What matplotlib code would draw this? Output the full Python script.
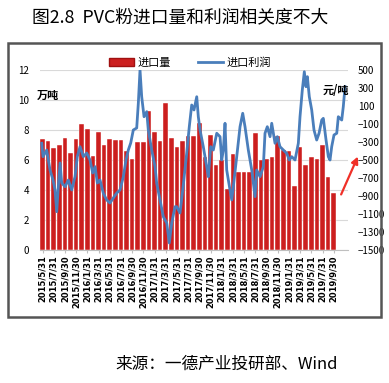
import matplotlib.pyplot as plt
import matplotlib.patches as patches
from matplotlib.lines import Line2D

plt.rcParams['font.family'] = ['Noto Sans CJK SC', 'DejaVu Sans']

# monthly import volume (10k tons), 2015/5 .. 2019/9
months = ['2015/5', '2015/6', '2015/7', '2015/8', '2015/9', '2015/10', '2015/11', '2015/12',
          '2016/1', '2016/2', '2016/3', '2016/4', '2016/5', '2016/6', '2016/7', '2016/8',
          '2016/9', '2016/10', '2016/11', '2016/12', '2017/1', '2017/2', '2017/3', '2017/4',
          '2017/5', '2017/6', '2017/7', '2017/8', '2017/9', '2017/10', '2017/11', '2017/12',
          '2018/1', '2018/2', '2018/3', '2018/4', '2018/5', '2018/6', '2018/7', '2018/8',
          '2018/9', '2018/10', '2018/11', '2018/12', '2019/1', '2019/2', '2019/3', '2019/4',
          '2019/5', '2019/6', '2019/7', '2019/8', '2019/9']
imports = [7.4, 7.3, 6.8, 7.0, 7.5, 6.5, 7.4, 8.4, 8.1, 6.3, 7.9, 7.0, 7.4, 7.35,
           7.35, 6.6, 6.1, 7.2, 7.2, 9.3, 7.9, 7.3, 9.8, 7.5, 6.9, 7.3, 7.6, 7.6,
           8.5, 6.2, 7.7, 5.7, 6.0, 4.1, 6.4, 5.2, 5.2, 5.2, 7.8, 6.0, 6.1, 6.2,
           7.6, 6.7, 6.6, 4.3, 6.9, 5.7, 6.2, 6.1, 7.0, 4.9, 3.8]

tick_labels = ['2015/5/31', '2015/7/31', '2015/9/30', '2015/11/30', '2016/1/31',
               '2016/3/31', '2016/5/31', '2016/7/31', '2016/9/30', '2016/11/30',
               '2017/1/31', '2017/3/31', '2017/5/31', '2017/7/31', '2017/9/30',
               '2017/11/30', '2018/1/31', '2018/3/31', '2018/5/31', '2018/7/31',
               '2018/9/30', '2018/11/30', '2019/1/31', '2019/3/31', '2019/5/31',
               '2019/7/31', '2019/9/30']

# import profit (yuan/ton), position in months since 2015/5
profit_t = [-0.14, 0.09, 0.75, 1.34, 1.88, 2.23, 2.54, 2.82, 3.13, 3.43, 4.02, 4.61,
            5.21, 5.80, 6.21, 6.70, 7.29, 7.89, 8.48, 8.96, 9.38, 9.79, 10.27, 10.86,
            11.46, 12.05, 12.64, 13.25, 13.84, 14.43, 14.91, 15.32, 15.75, 16.21, 16.82,
            17.11, 17.41, 17.71, 18.13, 18.61, 18.89, 19.5, 20.09, 20.39, 20.98, 21.57,
            22.18, 22.64, 23.07, 23.66, 23.96, 24.55, 25.04, 25.75, 26.21, 26.64, 27.05,
            27.54, 27.82, 28.13, 28.71, 29.32, 29.61, 30.04, 30.5, 31.11, 31.7, 32.0,
            32.29, 32.59, 32.89, 33.48, 33.79, 34.07, 34.68, 35.27, 35.75, 36.16, 36.75,
            37.36, 37.95, 38.25, 38.84, 39.43, 39.73, 40.14, 40.63, 40.93, 41.52, 41.93,
            42.41, 43.0, 43.61, 44.07, 44.5, 45.09, 45.68, 45.98, 46.39, 46.75, 47.05,
            47.29, 47.64, 48.07, 48.48, 48.96, 49.38, 49.86, 50.14, 50.63, 51.04, 51.34,
            51.64, 52.05, 52.54, 52.82, 53.43, 53.71, 54.02]
profit = [-314, -463, -389, -611, -722, -833, -1074, -797, -533, -756, -797, -722,
          -833, -686, -463, -352, -463, -422, -500, -644, -574, -756, -722, -870,
          -944, -978, -922, -867, -833, -686, -500, -389, -311, -167, -144,
          133, 500, 203, -19, 37, -167, -389, -574, -759, -944, -1130,
          -1200, -1422, -1200, -1019, -1019, -1089, -833, -422, -130, 111, 56,
          203, -19, -167, -352, -574, -686, -352, -389, -203, -241, -500,
          -389, -92, -611, -833, -944, -797, -463, -130, 19, -130, -389,
          -611, -907, -611, -686, -574, -203, -130, -241, -92, -314, -241,
          -352, -389, -426, -500, -463, -500, -314, -19, 278, 481, 314,
          426, 203, 56, -167, -278, -203, -56, -37, -278, -463, -500,
          -352, -222, -203, -19, -56, 93, 315]

W, H = 389, 383
fig = plt.figure(figsize=(W / 100, H / 100), dpi=100)

# outer frame
fig.patches.append(patches.Rectangle(
    (8 / W, 1 - 317 / H), 373 / W, 274 / H,
    transform=fig.transFigure, fill=False, edgecolor='#555555', linewidth=1.8))

ax1 = fig.add_axes([40 / W, 1 - 250 / H, 308 / W, 180 / H])
x = list(range(len(imports)))
ax1.bar(x, imports, width=0.8, color='#CC1F1F', edgecolor='white', linewidth=0.3, zorder=2)
ax1.set_ylim(0, 12)
ax1.set_yticks(range(0, 13, 2))
ax1.set_xlim(-0.45, 54.55)
ax1.grid(axis='y', color='#D9D9D9', linewidth=0.8, zorder=0)
ax1.set_axisbelow(True)
for s in ['top', 'left', 'right']:
    ax1.spines[s].set_visible(False)
ax1.spines['bottom'].set_color('#BFBFBF')
ax1.tick_params(axis='y', length=0, pad=8, labelsize=7)
ax1.set_xticks(x[::2])
ax1.set_xticklabels(tick_labels, rotation=90, fontsize=6, fontweight='bold', family='DejaVu Sans')
ax1.tick_params(axis='x', length=2, color='#BFBFBF', pad=2)

ax2 = ax1.twinx()
ax2.plot(profit_t, profit, color='#4A7EBB', linewidth=2, zorder=3)
ax2.set_ylim(-1500, 500)
ax2.set_yticks(range(-1500, 501, 200))
ax2.tick_params(axis='y', length=0, pad=7, labelsize=7)
for s in ['top', 'left', 'right', 'bottom']:
    ax2.spines[s].set_visible(False)

handles = [patches.Patch(facecolor='#CC1F1F', edgecolor='#A01010'),
           Line2D([], [], color='#4A7EBB', linewidth=2)]
fig.legend(handles, ['进口量', '进口利润'], loc='center', ncol=2,
           bbox_to_anchor=(190 / W, 1 - 63 / H), frameon=False, fontsize=8,
           handlelength=2.2, columnspacing=2.5, handletextpad=0.3)

fig.text(37 / W, 1 - 95 / H, '万吨', fontsize=8, fontweight='bold', va='center')
fig.text(323 / W, 1 - 90 / H, '元/吨', fontsize=8, fontweight='bold', va='center')

ax1.annotate('', xy=(359 / W, 1 - 154 / H), xytext=(340 / W, 1 - 197 / H),
             xycoords='figure fraction', textcoords='figure fraction',
             arrowprops=dict(arrowstyle='-|>', color='#F03028', lw=1.6, mutation_scale=10))

fig.text(32 / W, 1 - 18 / H, '图2.8  PVC粉进口量和利润相关度不大', fontsize=12.8, va='center')
fig.text(115 / W, 1 - 364 / H, '来源：一德产业投研部、Wind', fontsize=12, va='center')

fig.savefig('out.png', dpi=100)
